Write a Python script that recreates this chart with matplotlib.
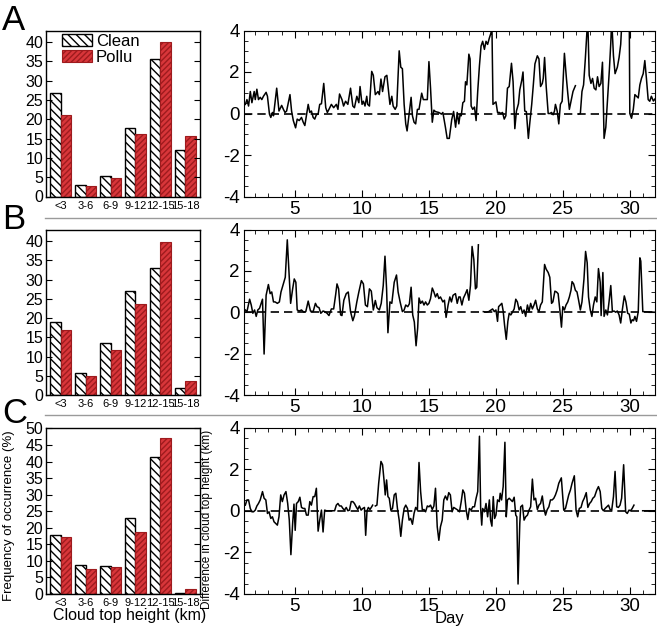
import numpy as np
import matplotlib
matplotlib.use("Agg")
import matplotlib.pyplot as plt
import matplotlib.transforms as mtransforms
from matplotlib.lines import Line2D
from matplotlib.ticker import MultipleLocator

plt.rcParams['font.family'] = ['Liberation Sans', 'DejaVu Sans']
plt.rcParams['axes.unicode_minus'] = False
plt.rcParams['hatch.linewidth'] = 1.0

###############
## BAR DATA  ##
###############
categories = ['<3', '3-6', '6-9', '9-12', '12-15', '15-18']
clean_a = [26.8, 3.0, 5.2, 17.8, 35.6, 12.0]
pollu_a = [21.0, 2.6, 4.8, 16.2, 40.0, 15.6]
clean_b = [19.0, 5.8, 13.5, 27.0, 33.0, 1.8]
pollu_b = [16.8, 5.0, 11.8, 23.6, 39.7, 3.6]
clean_c = [17.8, 8.8, 8.6, 23.0, 41.5, 0.3]
pollu_c = [17.2, 7.6, 8.2, 18.6, 47.0, 1.5]

################
## LINE DATA  ##
################
# (day, difference in cloud top height, km); nan = missing data
nan = np.nan
diff_a = [(1.30,0.44),(1.42,0.67),(1.54,0.36),(1.67,1.06),(1.79,0.52),(1.96,1.06),(2.04,0.67),(2.16,1.17),
    (2.28,0.67),(2.41,0.78),(2.53,0.67),(2.65,0.83),(2.85,1.02),(2.95,0.83),(3.10,-0.03),(3.20,-0.19),
    (3.32,0.05),(3.40,-0.11),(3.64,1.22),(3.81,0.12),(4.01,0.39),(4.14,0.2),(4.26,0.05),(4.38,0.12),
    (4.63,0.91),(4.75,0.12),(4.88,-0.34),(5.05,-0.69),(5.17,-0.27),(5.32,-0.34),(5.49,-0.19),(5.62,-0.42),
    (5.74,-0.58),(5.99,0.44),(6.11,0.05),(6.23,0.12),(6.36,-0.19),(6.48,-0.27),(6.60,-0.06),(6.73,-0.03),
    (6.85,0.44),(6.98,0.47),(7.15,1.45),(7.30,0.28),(7.42,0.05),(7.54,0.2),(7.72,0.44),(7.89,0.28),
    (8.09,0.44),(8.21,0.2),(8.33,0.94),(8.51,0.67),(8.63,0.36),(8.78,0.59),(8.95,0.44),(9.15,1.22),
    (9.32,0.36),(9.44,0.28),(9.62,0.83),(9.77,0.52),(9.86,1.3),(10.01,0.44),(10.11,0.59),(10.23,0.36),
    (10.36,0.83),(10.43,0.44),(10.56,0.36),(10.73,2.03),(10.85,1.84),(11.00,0.91),(11.10,0.98),(11.20,1.06),
    (11.30,0.91),(11.42,1.66),(11.54,1.06),(11.72,1.77),(11.86,1.84),(11.99,1.06),(12.09,0.44),(12.23,0.83),
    (12.33,0.36),(12.48,0.2),(12.60,0.36),(12.78,3.02),(12.90,2.23),(13.02,2.16),(13.15,0.44),(13.27,-0.5),
    (13.37,-0.84),(13.52,-0.03),(13.67,0.78),(13.77,-0.11),(13.89,-0.42),(14.01,-0.5),(14.14,0.2),(14.26,0.2),
    (14.46,0.98),(14.58,0.67),(14.70,0.67),(14.88,0.67),(15.00,2.5),(15.12,1.22),(15.25,-0.42),(15.37,0.16),
    (15.49,0.09),(15.74,0.05),(15.94,-0.03),(16.04,0.05),(16.23,-0.66),(16.36,-1.2),(16.52,-1.2),(16.70,-0.3),
    (16.84,0.1),(16.99,-0.66),(17.11,0.05),(17.23,-0.5),(17.33,-0.03),(17.41,-0.11),(17.53,0.52),(17.65,0.59),
    (17.73,1.53),(17.83,1.38),(17.98,2.86),(18.07,2.63),(18.15,0.36),(18.27,0.2),(18.40,0.31),(18.52,-0.34),
    (18.64,1.06),(18.77,2.31),(18.89,3.25),(19.01,3.48),(19.14,3.09),(19.26,3.48),(19.38,3.33),(19.51,3.64),
    (19.63,3.88),(19.70,4.3),(19.78,0.44),(20.00,0.56),(20.12,0.05),(20.25,0.05),(20.37,0.0),(20.49,0.05),
    (20.62,-0.27),(20.74,-0.11),(20.86,1.22),(20.99,1.3),(21.16,2.42),(21.28,1.53),(21.41,-0.73),(21.53,0.12),
    (21.68,0.47),(21.78,1.14),(21.93,1.61),(22.02,2.0),(22.15,0.12),(22.27,0.09),(22.42,-1.2),(22.52,-0.5),
    (22.67,0.44),(22.79,1.38),(22.91,2.39),(23.09,2.78),(23.21,2.63),(23.33,1.3),(23.46,1.45),(23.53,1.69),
    (23.63,2.7),(23.75,1.3),(23.90,0.0),(24.02,0.0),(24.15,0.05),(24.27,-0.06),(24.37,0.12),(24.44,0.44),
    (24.57,0.12),(24.69,-0.5),(24.81,0.44),(24.94,0.59),(25.11,2.9),(25.26,1.69),(25.36,0.98),(25.48,0.2),
    (25.63,0.67),(25.75,1.06),(25.93,1.34),(nan,nan),(26.17,-0.03),(26.30,0.0),(26.42,1.06),(26.54,1.38),
    (26.67,2.63),(26.79,3.95),(26.85,4.6),(26.96,1.84),(27.09,1.45),(27.21,1.69),(27.33,1.22),(27.46,1.14),
    (27.58,1.77),(27.70,1.3),(27.83,1.45),(27.95,2.47),(28.07,-1.2),(28.20,-0.66),(28.35,0.91),(28.47,2.16),
    (28.57,3.4),(28.64,4.5),(28.77,2.78),(28.89,1.92),(29.06,2.23),(29.19,2.7),(29.31,3.33),(29.38,4.2),
    (29.60,4.8),(29.95,4.5),(29.99,0.0),(30.12,-0.23),(30.25,0.2),(30.37,0.91),(30.49,0.83),(30.62,0.75),
    (30.74,1.38),(30.86,1.69),(30.99,1.92),(31.11,2.55),(31.23,1.69),(31.36,0.67),(31.48,0.59),(31.60,0.83),
    (31.75,0.6),(31.87,0.7)]

diff_b = [(1.30,0.11),(1.42,0.03),(1.62,0.63),(1.74,0.35),(1.86,-0.05),(1.99,0.11),(2.11,-0.2),(2.23,0.11),
    (2.36,0.19),(2.48,0.43),(2.58,0.63),(2.70,-2.02),(2.85,0.82),(3.02,1.34),(3.15,0.9),(3.27,0.98),
    (3.40,0.5),(3.52,0.5),(3.69,0.43),(3.84,0.5),(3.96,0.98),(4.14,1.37),(4.28,1.69),(4.43,3.5),
    (4.56,1.92),(4.68,0.43),(4.83,1.13),(4.95,1.61),(5.07,1.45),(5.17,0.11),(5.32,0.06),(5.49,0.11),
    (5.67,0.0),(5.81,0.03),(5.99,0.54),(6.16,0.06),(6.36,0.03),(6.53,0.43),(6.65,0.27),(6.80,0.22),
    (6.93,-0.05),(7.10,0.06),(7.22,0.03),(7.40,-0.05),(7.54,-0.16),(7.72,0.16),(7.89,0.16),(8.04,0.85),
    (8.14,1.37),(8.26,1.13),(8.41,-0.13),(8.51,-0.16),(8.65,0.58),(8.83,0.9),(8.98,0.98),(9.15,0.03),
    (9.32,-0.41),(9.44,-0.17),(9.62,0.5),(9.77,0.98),(9.96,1.53),(10.11,1.37),(10.26,0.35),(10.41,0.27),
    (10.56,1.13),(10.70,1.02),(10.85,0.11),(11.00,0.57),(11.12,0.22),(11.30,0.11),(11.44,0.43),(11.59,1.29),
    (11.72,2.71),(11.84,1.13),(11.94,-0.99),(12.09,0.5),(12.23,0.43),(12.41,1.45),(12.58,1.8),(12.70,0.98),
    (12.85,0.5),(13.02,0.03),(13.15,0.11),(13.27,0.35),(13.42,0.27),(13.54,0.41),(13.67,1.21),(13.79,-0.13),
    (13.91,-0.47),(14.04,-1.62),(14.16,-0.76),(14.26,0.69),(14.38,0.43),(14.51,0.54),(14.63,0.35),(14.75,0.5),
    (14.88,0.35),(15.00,0.43),(15.12,0.66),(15.25,1.17),(15.37,0.98),(15.49,0.74),(15.62,0.9),(15.74,0.66),
    (15.86,0.74),(16.04,0.5),(16.16,0.58),(16.28,-0.25),(16.43,0.35),(16.56,0.74),(16.68,0.5),(16.80,0.82),
    (16.98,0.9),(17.11,0.43),(17.23,0.74),(17.33,0.74),(17.46,0.35),(17.58,0.69),(17.73,0.9),(17.85,1.09),
    (17.98,0.58),(18.10,1.29),(18.22,3.18),(18.35,2.55),(18.47,1.13),(18.57,1.21),(18.69,3.26),(nan,nan),
    (19.06,0.03),(19.26,0.0),(19.46,0.03),(19.63,0.11),(19.75,0.16),(19.88,0.03),(20.00,0.11),(20.12,-0.44),
    (20.20,0.27),(20.32,0.35),(20.44,0.43),(20.54,0.06),(20.64,-0.6),(20.77,-1.31),(20.89,-0.44),(20.99,-0.05),
    (21.11,-0.13),(21.23,0.0),(21.36,0.16),(21.48,0.63),(21.60,0.5),(21.73,0.11),(21.85,0.27),(21.98,-0.05),
    (22.10,0.11),(22.22,-0.2),(22.35,0.35),(22.47,0.03),(22.59,0.43),(22.72,0.16),(22.84,0.35),(22.96,0.58),
    (23.09,0.16),(23.21,0.03),(23.33,0.35),(23.46,0.5),(23.63,2.31),(23.75,2.08),(23.90,1.92),(24.02,1.69),
    (24.15,0.43),(24.25,0.5),(24.40,1.02),(24.52,0.98),(24.64,0.9),(24.77,0.11),(24.89,-0.72),(24.99,0.27),
    (25.11,0.11),(25.23,0.35),(25.36,0.5),(25.48,0.74),(25.60,1.06),(25.68,1.48),(25.80,1.37),(25.93,1.06),
    (26.05,0.98),(26.17,0.58),(26.30,0.11),(26.42,0.5),(26.57,1.61),(26.69,2.94),(26.81,2.39),(26.91,0.74),
    (27.04,0.11),(27.16,-0.2),(27.28,0.35),(27.41,0.74),(27.53,0.5),(27.65,2.11),(27.78,1.45),(27.85,-0.16),
    (27.98,1.92),(28.07,-0.2),(28.20,0.11),(28.32,-0.13),(28.44,0.5),(28.57,1.29),(28.69,0.03),(28.81,0.06),
    (28.94,0.0),(29.06,0.06),(29.19,-0.13),(29.31,-0.52),(29.43,0.11),(29.58,0.79),(29.70,0.5),(29.83,-0.05),
    (29.95,-0.09),(30.07,-0.52),(30.17,-0.36),(30.27,-0.41),(30.37,-0.2),(30.49,-0.44),(30.62,0.03),(30.74,2.63),
    (30.81,2.47),(30.96,0.03),(31.87,0.0)]

diff_c = [(1.30,0.27),(1.42,0.52),(1.54,0.52),(1.67,0.11),(1.79,-0.05),(1.91,-0.05),(2.04,0.03),(2.16,0.23),
    (2.28,0.35),(2.41,0.52),(2.58,0.92),(2.70,0.6),(2.83,0.52),(2.95,-0.13),(3.07,-0.05),(3.20,-0.37),
    (3.32,-0.29),(3.44,-0.53),(3.57,-0.61),(3.69,-0.69),(3.81,-0.29),(3.94,0.76),(4.06,0.44),(4.19,0.76),
    (4.33,0.92),(4.46,0.35),(4.58,-0.45),(4.70,-2.11),(4.83,-0.61),(4.93,0.32),(5.02,-0.94),(5.12,0.35),
    (5.25,0.44),(5.37,0.65),(5.49,0.16),(5.62,0.11),(5.74,0.11),(5.86,-0.21),(5.99,-0.21),(6.11,0.44),
    (6.23,0.27),(6.36,0.68),(6.48,0.68),(6.60,1.08),(6.73,-0.98),(6.85,-0.45),(6.98,0.03),(7.10,-1.02),
    (7.22,0.03),(7.35,0.0),(7.96,0.0),(8.09,0.27),(8.21,0.35),(8.33,0.23),(8.46,0.23),(8.58,0.11),
    (8.70,0.03),(8.83,0.16),(8.95,0.0),(9.07,0.03),(9.20,0.44),(9.32,0.44),(9.44,0.35),(9.57,0.19),
    (9.69,0.06),(9.81,0.23),(9.94,0.03),(10.06,0.11),(10.19,0.16),(10.28,-1.18),(10.38,0.0),(10.48,0.16),
    (10.60,0.06),(10.73,0.19),(10.80,0.27),(nan,nan),(11.00,0.23),(11.12,0.27),(11.25,1.32),(11.42,2.37),
    (11.54,2.21),(11.67,1.32),(11.74,0.76),(11.84,1.48),(11.94,0.68),(12.04,0.6),(12.16,0.03),(12.28,0.11),
    (12.41,0.76),(12.53,0.84),(12.65,0.11),(12.78,-0.45),(12.90,-1.23),(13.02,-0.45),(13.15,0.11),(13.27,0.27),
    (13.40,0.11),(13.52,-0.45),(13.64,-0.37),(13.77,-0.65),(13.89,-0.13),(14.01,0.16),(14.14,0.03),(14.26,2.32),
    (14.38,0.92),(14.51,0.03),(14.63,0.06),(14.75,-0.05),(14.88,0.23),(15.00,0.19),(15.12,0.27),(15.25,0.06),
    (15.37,0.23),(15.49,1.08),(15.62,-0.77),(15.74,-1.42),(15.86,-0.77),(15.99,-0.45),(16.11,0.52),(16.23,0.71),
    (16.36,0.52),(16.48,0.87),(16.60,0.76),(16.73,-0.05),(16.85,0.16),(17.16,0.03),(17.28,-0.05),(17.41,0.44),
    (17.53,1.0),(17.65,0.84),(17.78,0.03),(17.90,-0.42),(18.02,0.11),(18.15,0.03),(18.27,0.19),(18.40,0.19),
    (18.52,0.6),(18.64,0.92),(18.77,3.58),(18.86,0.11),(18.94,-0.69),(19.01,0.11),(19.14,-0.05),(19.26,0.35),
    (19.38,-0.29),(19.51,0.52),(19.60,-0.45),(19.70,-0.74),(19.80,0.68),(19.90,-0.37),(20.00,-0.21),(20.12,0.52),
    (20.25,0.44),(20.32,0.84),(20.42,0.52),(20.54,1.16),(20.67,3.29),(20.77,-0.29),(20.86,0.52),(20.99,0.6),
    (21.11,0.52),(21.23,0.44),(21.36,0.65),(21.48,-0.21),(21.56,-0.29),(21.65,-3.52),(21.78,-0.61),(21.85,0.19),
    (21.98,0.27),(22.10,-0.45),(22.22,-0.29),(22.35,-0.21),(22.47,0.03),(22.59,0.19),(22.72,1.52),(22.84,0.52),
    (22.96,0.6),(23.09,0.06),(23.21,0.27),(23.33,0.35),(23.46,0.71),(23.58,0.11),(23.70,-0.21),(23.83,0.06),
    (23.95,0.19),(24.07,0.52),(24.20,0.52),(24.32,0.6),(24.44,0.76),(24.57,1.0),(24.69,1.32),(24.88,1.58),
    (25.06,0.03),(25.19,0.11),(25.31,0.44),(25.43,0.76),(25.56,1.0),(25.68,1.32),(25.85,1.68),(25.98,0.03),
    (26.10,-0.29),(26.22,0.11),(26.35,0.16),(26.47,0.44),(26.59,0.6),(26.74,0.87),(26.86,0.16),(26.99,0.35),
    (27.11,0.44),(27.23,0.6),(27.36,0.68),(27.53,1.0),(27.65,1.16),(27.78,0.92),(27.90,0.11),(28.02,0.0),
    (28.15,0.11),(28.27,0.19),(28.40,0.27),(28.52,0.06),(28.64,0.03),(28.77,0.68),(28.89,1.89),(29.01,0.19),
    (29.14,0.16),(29.26,0.27),(29.38,0.6),(29.53,2.21),(29.68,-0.05),(29.80,-0.13),(29.93,0.03),(30.05,0.0),
    (30.17,0.11),(30.30,0.27),(nan,nan),(30.95,0.0),(31.87,0.0)]

#################
####  PLOTS  ####
#################
W, H = 657, 630
fig = plt.figure(figsize=(W/100, H/100), dpi=100)

def fx(px):
    return px / W

def fy(py):
    return 1 - py / H

# (top, bottom) in pixels for each row
rows = [(30.5, 196.5), (229.5, 395), (427.5, 594)]
bar_left, bar_right = 46, 200
line_left, line_right = 244, 655

RED = '#d8363a'
RED_EDGE = '#9e1b1e'
# small horizontal nudges (px) so the wide category labels don't collide
label_nudge = [0, 0, 0, -2.5, -2.5, 3.5]

def bar_panel(ax, clean, pollu, ymax, legend=False):
    x = np.arange(len(categories))
    w = 0.42
    ax.bar(x - w/2, clean, w, color='white', edgecolor='black', hatch='\\\\\\\\',
           linewidth=1.0, label='Clean')
    ax.bar(x + w/2, pollu, w, color=RED, edgecolor=RED_EDGE, hatch='//////',
           linewidth=0.8, label='Pollu')
    ax.set_xlim(-0.6, 5.6)
    ax.set_ylim(0, ymax)
    ax.set_xticks(x)
    ax.set_xticklabels(categories, fontsize=8)
    for lab, dx in zip(ax.get_xticklabels(), label_nudge):
        lab.set_transform(lab.get_transform() +
                          mtransforms.ScaledTranslation(dx / 100, 0, fig.dpi_scale_trans))
    ax.yaxis.set_major_locator(MultipleLocator(5))
    ax.tick_params(axis='y', direction='in', right=True, length=4, labelsize=11.5, pad=2)
    ax.tick_params(axis='x', length=0, pad=3)
    for s in ax.spines.values():
        s.set_linewidth(1.0)
    if legend:
        ax.legend(loc='upper left', bbox_to_anchor=(0.08, 1.0), frameon=False, fontsize=12,
                  handlelength=1.8, handleheight=0.75, labelspacing=0.05, borderpad=0.1,
                  handletextpad=0.25, borderaxespad=0.1)

def line_panel(ax, pts):
    day = [p[0] for p in pts]
    val = [p[1] for p in pts]
    ax.axhline(0, color='black', linestyle=(0, (5, 3)), linewidth=1.2, zorder=1)
    ax.plot(day, val, color='black', linewidth=1.1, zorder=2)
    ax.set_xlim(1.2, 31.87)
    ax.set_ylim(-4, 4)
    ax.xaxis.set_major_locator(MultipleLocator(5))
    ax.xaxis.set_minor_locator(MultipleLocator(1))
    ax.yaxis.set_major_locator(MultipleLocator(2))
    ax.yaxis.set_minor_locator(MultipleLocator(0.5))
    ax.tick_params(which='both', direction='in', top=True, right=True, labelsize=13.5, pad=3)
    ax.tick_params(which='major', length=5)
    ax.tick_params(which='minor', length=3)

bars = [(clean_a, pollu_a, 43), (clean_b, pollu_b, 43), (clean_c, pollu_c, 50.3)]
lines = [diff_a, diff_b, diff_c]
axes_bar, axes_line = [], []
for i, (top, bot) in enumerate(rows):
    axb = fig.add_axes([fx(bar_left), fy(bot), fx(bar_right - bar_left), (bot - top) / H])
    bar_panel(axb, bars[i][0], bars[i][1], bars[i][2], legend=(i == 0))
    axl = fig.add_axes([fx(line_left), fy(bot), fx(line_right - line_left), (bot - top) / H])
    line_panel(axl, lines[i])
    axes_bar.append(axb)
    axes_line.append(axl)

axes_bar[2].set_ylabel('Frequency of occurrence (%)', fontsize=9.5)
axes_bar[2].yaxis.set_label_coords(-0.20, 0.47)
axes_bar[2].set_xlabel('Cloud top height (km)', fontsize=11.5, labelpad=0)
axes_bar[2].xaxis.set_label_coords(0.54, -0.085)
axes_line[2].set_ylabel('Difference in cloud top height (km)', fontsize=8.5)
axes_line[2].yaxis.set_label_coords(-0.075, 0.45)
axes_line[2].set_xlabel('Day', fontsize=12, labelpad=-3)

# panel letters
for letter, base in zip(['A', 'B', 'C'], [30, 229, 423]):
    fig.text(fx(2), fy(base), letter, fontsize=25, va='baseline', ha='left')

# grey separators between rows
for py in [218, 415]:
    fig.add_artist(Line2D([fx(45), 1.0], [fy(py), fy(py)], color='#9a9a9a', linewidth=1.0))

fig.savefig('out.png', dpi=100)
